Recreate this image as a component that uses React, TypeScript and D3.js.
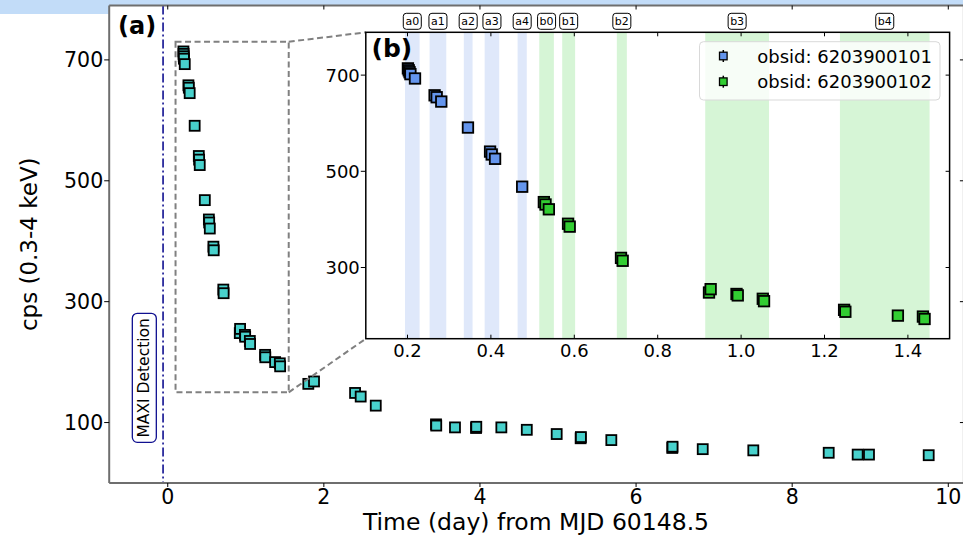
import React from 'react';
import * as d3 from 'd3';

const W = 963;
const H = 539;
const FONT = '"DejaVu Sans", sans-serif';

// ---- data: obsid 6203900101 (blue in inset) ----
const obs101Time = [0.201, 0.203, 0.205, 0.207, 0.218, 0.265, 0.270, 0.281, 0.345, 0.398, 0.402, 0.410, 0.475];
const obs101Cps = [714, 710, 706, 702, 693, 658, 654, 645, 591, 541, 535, 526, 468];

// ---- data: obsid 6203900102 (green in inset) ----
const obs102Time = [0.527, 0.531, 0.539, 0.585, 0.589, 0.712, 0.716, 0.923, 0.927, 0.989, 0.992, 1.052, 1.055, 1.247, 1.250, 1.376, 1.436, 1.440];
const obs102Cps = [436, 431, 421, 391, 385, 320, 314, 248, 255, 245, 242, 235, 230, 212, 208, 200, 198, 193];

// ---- later monitoring points (main panel only) ----
const laterTime = [1.801, 1.874, 2.400, 2.472, 2.665, 3.437, 3.440, 3.680, 3.950, 3.953, 4.274, 4.600, 4.983, 5.290, 5.293, 5.683, 6.464, 6.467, 6.854, 7.502, 8.468, 8.839, 8.984, 9.749];
const laterCps = [164, 168, 149, 143, 128, 97, 95, 92, 91, 93, 92, 88, 81, 74, 76, 71, 58, 60, 56, 54, 50, 47, 47, 46];

// ---- shaded intervals in the inset ----
const bandNames = ['a0', 'a1', 'a2', 'a3', 'a4', 'b0', 'b1', 'b2', 'b3', 'b4'];
const bandStart = [0.194, 0.253, 0.335, 0.385, 0.464, 0.516, 0.571, 0.702, 0.914, 1.237];
const bandEnd = [0.229, 0.293, 0.356, 0.420, 0.486, 0.551, 0.602, 0.726, 1.067, 1.452];

// ---- ticks ----
const mainXTicks = [0, 2, 4, 6, 8, 10];
const mainYTicks = [100, 300, 500, 700];
const insetXTicks = [0.2, 0.4, 0.6, 0.8, 1.0, 1.2, 1.4];
const insetYTicks = [300, 500, 700];

const maxiTime = -0.06;
const legendLabels = ['obsid: 6203900101', 'obsid: 6203900102'];

const C_BLUE = '#6495ed';
const C_GREEN = '#32cd32';
const C_TURQ = '#48d1cc';
const C_BAND_BLUE = '#dfe8fa';
const C_BAND_GREEN = '#d6f5d6';
const NAVY = '#101090';

export default function App() {
  // main axes
  const mx = d3.scaleLinear().domain([-0.75, 10.2]).range([109.2, 963.9]);
  const my = d3.scaleLinear().domain([0, 790]).range([483, 5.5]);
  // inset axes
  const ix = d3.scaleLinear().domain([0.1, 1.5]).range([365.8, 949.6]);
  const iy = d3.scaleLinear().domain([152, 789]).range([338.7, 32.3]);

  const [mL, mR] = mx.range();
  const [mB, mT] = my.range();
  const [iL, iR] = ix.range();
  const [iB, iT] = iy.range();

  const allTime = [...obs101Time, ...obs102Time, ...laterTime];
  const allCps = [...obs101Cps, ...obs102Cps, ...laterCps];

  const sq = (cx: number, cy: number, fill: string, key: string, s = 10) => (
    <rect key={key} x={cx - s / 2} y={cy - s / 2} width={s} height={s} fill={fill} stroke="#000" strokeWidth={1.8} />
  );

  // zoom rectangle (main coords)
  const zx0 = mx(0.1), zx1 = mx(1.55), zy0 = my(730), zy1 = my(150);

  // MAXI label box
  const maxiCx = mx(-0.30), maxiCy = my(174);

  return (
    <div style={{ position: 'absolute', left: 0, top: 0 }}>
      <svg width={W} height={H} style={{ display: 'block', fontFamily: FONT }}>
        <rect x={0} y={0} width={W} height={H} fill="#fff" />
        <rect x={0} y={0} width={W} height={14} fill="#c2dcf8" />
        {/* main axes background */}
        <rect x={mL} y={mT} width={mR - mL} height={mB - mT} fill="#fff" />

        {/* MAXI detection line */}
        <line x1={mx(maxiTime)} x2={mx(maxiTime)} y1={mT} y2={mB} stroke={NAVY} strokeWidth={1.6} strokeDasharray="9,3,2,3" />
        <rect x={maxiCx - 12} y={maxiCy - 64.5} width={24} height={129} rx={5} fill="#fff" stroke={NAVY} strokeWidth={1.3} />
        <text x={maxiCx} y={maxiCy} transform={`rotate(-90 ${maxiCx} ${maxiCy})`} textAnchor="middle" dominantBaseline="central" fontSize={15.5} fill="#000">MAXI Detection</text>

        {/* main markers */}
        {allTime.map((t, i) => sq(mx(t), my(allCps[i]), C_TURQ, 'm' + i))}

        {/* zoom rectangle + connectors */}
        <rect x={zx0} y={zy0} width={zx1 - zx0} height={zy1 - zy0} fill="none" stroke="#808080" strokeWidth={2} strokeDasharray="6,3.5" />
        <line x1={zx1} y1={zy0} x2={iL} y2={iT} stroke="#808080" strokeWidth={2} strokeDasharray="6,3.5" />
        <line x1={zx1} y1={zy1} x2={iL} y2={iB} stroke="#808080" strokeWidth={2} strokeDasharray="6,3.5" />

        {/* main spines */}
        <g stroke="#6e6e6e" strokeWidth={2} fill="none">
          <line x1={mL} x2={mR} y1={mT} y2={mT} />
          <line x1={mL} x2={mR} y1={mB} y2={mB} />
          <line x1={mL} x2={mL} y1={mT} y2={mB} />
          <line x1={mR} x2={mR} y1={mT} y2={mB} />
        </g>
        {/* main ticks */}
        <g stroke="#000" strokeWidth={1}>
          {mainXTicks.map((v) => (
            <g key={'mxt' + v}>
              <line x1={mx(v)} x2={mx(v)} y1={mB} y2={mB + 4} />
              <line x1={mx(v)} x2={mx(v)} y1={mT} y2={mT + 4} />
            </g>
          ))}
          {mainYTicks.map((v) => (
            <g key={'myt' + v}>
              <line x1={mL - 5} x2={mL} y1={my(v)} y2={my(v)} />
              <line x1={mR - 4} x2={mR} y1={my(v)} y2={my(v)} />
            </g>
          ))}
        </g>
        <g fontSize={20.5} fill="#000">
          {mainXTicks.map((v) => (
            <text key={'mxl' + v} x={mx(v)} y={mB + 20.5} textAnchor="middle">{v}</text>
          ))}
          {mainYTicks.map((v) => (
            <text key={'myl' + v} x={mL - 6} y={my(v) + 7.5} textAnchor="end">{v}</text>
          ))}
        </g>
        <text x={536} y={530} textAnchor="middle" fontSize={23.5} fill="#000">Time (day) from MJD 60148.5</text>
        <text x={37} y={(mT + mB) / 2} transform={`rotate(-90 37 ${(mT + mB) / 2})`} textAnchor="middle" fontSize={23} fill="#000">cps (0.3-4 keV)</text>
        <text x={118} y={33.5} fontSize={24} fontWeight="bold" fill="#000">(a)</text>

        {/* ---------- inset ---------- */}
        <rect x={iL} y={iT} width={iR - iL} height={iB - iT} fill="#fff" />
        {bandNames.map((n, i) => (
          <rect key={'band' + n} x={ix(bandStart[i])} y={iT} width={ix(bandEnd[i]) - ix(bandStart[i])} height={iB - iT}
            fill={n[0] === 'a' ? C_BAND_BLUE : C_BAND_GREEN} />
        ))}
        {obs101Time.map((t, i) => sq(ix(t), iy(obs101Cps[i]), C_BLUE, 'b' + i, 10.5))}
        {obs102Time.map((t, i) => sq(ix(t), iy(obs102Cps[i]), C_GREEN, 'g' + i, 10.5))}

        {/* legend */}
        <rect x={699.5} y={41.7} width={240.5} height={58.3} rx={4} fill="#fff" fillOpacity={0.8} stroke="#d9d9d9" strokeWidth={1} />
        {legendLabels.map((l, i) => {
          const ly = 56 + i * 25.7;
          return (
            <g key={'leg' + i}>
              <line x1={723.3} x2={723.3} y1={ly - 6} y2={ly + 6} stroke="#000" strokeWidth={1.5} />
              <rect x={723.3 - 3.8} y={ly - 3.8} width={7.6} height={7.6} fill={i === 0 ? C_BLUE : C_GREEN} stroke="#000" strokeWidth={1.3} />
              <text x={757.3} y={ly} dominantBaseline="central" fontSize={18} fill="#000">{l}</text>
            </g>
          );
        })}

        {/* inset spines */}
        <rect x={iL} y={iT} width={iR - iL} height={iB - iT} fill="none" stroke="#000" strokeWidth={1.5} />
        <g stroke="#000" strokeWidth={1}>
          {insetXTicks.map((v) => (
            <g key={'ixt' + v}>
              <line x1={ix(v)} x2={ix(v)} y1={iB} y2={iB - 4} />
              <line x1={ix(v)} x2={ix(v)} y1={iT} y2={iT + 4} />
            </g>
          ))}
          {insetYTicks.map((v) => (
            <g key={'iyt' + v}>
              <line x1={iL - 5} x2={iL} y1={iy(v)} y2={iy(v)} />
              <line x1={iR - 4} x2={iR} y1={iy(v)} y2={iy(v)} />
            </g>
          ))}
        </g>
        <g fontSize={18} fill="#000">
          {insetXTicks.map((v) => (
            <text key={'ixl' + v} x={ix(v)} y={iB + 18.5} textAnchor="middle">{v.toFixed(1)}</text>
          ))}
          {insetYTicks.map((v) => (
            <text key={'iyl' + v} x={iL - 6} y={iy(v) + 6.5} textAnchor="end">{v}</text>
          ))}
        </g>
        <text x={371.5} y={56.5} fontSize={25} fontWeight="bold" fill="#000">(b)</text>

        {/* band labels */}
        {bandNames.map((n, i) => {
          const cx = ix((bandStart[i] + bandEnd[i]) / 2);
          return (
            <g key={'bl' + n}>
              <rect x={cx - 9} y={13.3} width={18} height={16} rx={3} fill="#fff" stroke="#000" strokeWidth={1} />
              <text x={cx} y={21.5} textAnchor="middle" dominantBaseline="central" fontSize={11} fill="#000">{n}</text>
            </g>
          );
        })}
      </svg>
    </div>
  );
}
